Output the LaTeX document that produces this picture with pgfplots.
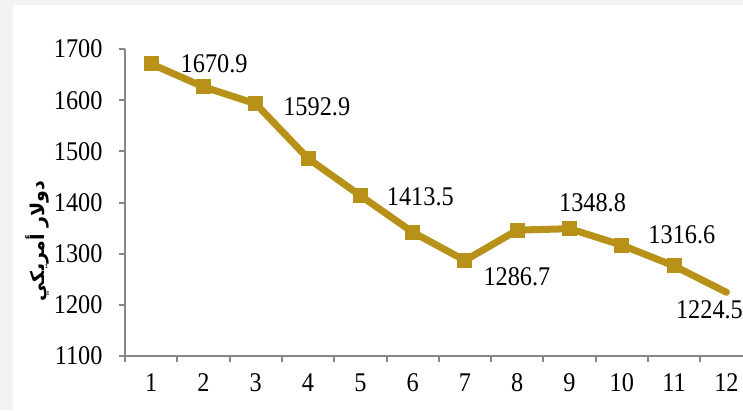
\documentclass[border=0pt]{standalone}
\usepackage{fontspec}
\setmainfont{Liberation Serif}
\newfontfamily\condserif[FakeStretch=0.9]{Liberation Serif}
\newfontfamily\arabicfont[Script=Arabic]{DejaVu Sans}
\TeXXeTstate=1
\usepackage{pgfplots}
\pgfplotsset{compat=1.18}
\definecolor{gold}{RGB}{184,146,24}
\definecolor{axgray}{RGB}{134,134,134}
\definecolor{bggray}{RGB}{242,242,242}
\begin{document}
\begin{tikzpicture}[x=1bp,y=1bp]
\useasboundingbox (0,0) rectangle (743,410);
\clip (0,0) rectangle (743,410);
\fill[bggray] (0,0) rectangle (743,410);
\fill[white] (13,0) rectangle (743,405);
\begin{axis}[
  at={(125bp,54bp)}, anchor=south west,
  scale only axis, width=627.6bp, height=307bp,
  xmin=0.5, xmax=12.5, ymin=1100, ymax=1700,
  clip=false,
  axis lines=left,
  axis line style={-, axgray, line width=2bp},
  tick align=outside,
  xtick={1,...,12},
  major x tick style={draw=none},
  minor xtick={0.5,1.5,...,11.5},
  minor x tick style={axgray, line width=2bp},
  minor tick length=6bp,
  ytick={1100,1200,...,1700},
  major y tick style={axgray, line width=2bp},
  major tick length=6bp,
  /pgf/number format/assume math mode=true,
  /pgf/number format/1000 sep={},
  ticklabel style={font=\condserif\fontsize{27bp}{32bp}\selectfont, black},
  yticklabel style={xshift=-13bp},
  xticklabel style={yshift=-8bp},
  ylabel={\arabicfont\bfseries\beginR دولار أمريكي\endR},
  ylabel style={at={(rel axis cs:-0.1404,0.375)}, anchor=center, font=\fontsize{19bp}{22bp}\selectfont},
]
\addplot[gold, line width=7bp, line join=round, line cap=round,
  mark=square*, mark size=7bp, mark indices={1,2,3,4,5,6,7,8,9,10,11},
  mark options={solid, fill=gold, draw=gold, line width=0pt}]
  coordinates {(1,1670.9) (2,1626) (3,1592.9) (4,1486) (5,1413.5) (6,1342)
               (7,1286.7) (8,1346) (9,1348.8) (10,1316.6) (11,1276) (12,1224.5)};
\addplot[draw=none, mark=none, nodes near coords, point meta=explicit symbolic,
  visualization depends on={value \thisrow{dx}\as\dx},
  visualization depends on={value \thisrow{dy}\as\dy},
  every node near coord/.append style={anchor=center, xshift={(\dx)*1bp}, yshift={(\dy)*1bp},
    font=\condserif\fontsize{27bp}{32bp}\selectfont, text=black}]
  table[x=x, y=y, meta=lbl] {
x y dx dy lbl
1 1670.9 63 0 1670.9
3 1592.9 61 -3 1592.9
5 1413.5 60 -1 1413.5
7 1286.7 52 -16 1286.7
9 1348.8 23 26 1348.8
10 1316.6 60 10 1316.6
12 1224.5 -17 -17 1224.5
};
\end{axis}
\end{tikzpicture}
\end{document}
